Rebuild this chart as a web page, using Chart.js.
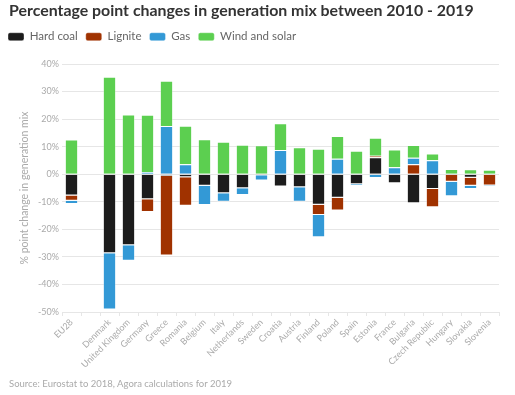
<!DOCTYPE html>
<html>
<head>
<meta charset="utf-8">
<script src="https://cdn.jsdelivr.net/npm/chart.js@4.4.1/dist/chart.umd.min.js"></script>
<style>
  html, body { margin: 0; padding: 0; background: #fff; }
  #wrap { position: relative; width: 515px; height: 395px; overflow: hidden; }
  canvas { display: block; position: absolute; left: 0; top: 0; }
  #title { position: absolute; left: 9px; top: -0.5px; font-family: 'Lato', sans-serif; font-weight: bold;
           font-size: 15.9px; line-height: 20px; color: #333; white-space: nowrap; }
  #foot { position: absolute; left: 9px; top: 378px; font-family: 'Lato', sans-serif;
          font-size: 9.5px; line-height: 12px; color: #aaa; white-space: nowrap; }
</style>
</head>
<body>
<div id="wrap">
  <canvas id="c" width="515" height="395"></canvas>
  <div id="title">Percentage point changes in generation mix between 2010 - 2019</div>
  <div id="foot">Source: Eurostat to 2018, Agora calculations for 2019</div>
</div>
<script>
const categories = ["EU28", "", "Denmark", "United Kingdom", "Germany", "Greece", "Romania", "Belgium", "Italy", "Netherlands", "Sweden", "Croatia", "Austria", "Finland", "Poland", "Spain", "Estonia", "France", "Bulgaria", "Czech Republic", "Hungary", "Slovakia", "Slovenia"];
const hardCoal  = [-7.7, null, -28.7, -25.8, -9.1, -0.6, -1.1, -4.2, -6.9, -5.1, 0, -4.5, -4.7, -11.1, -8.5, -3.6, 6.2, -3.3, -10.5, -5.4, -0.3, -1.3, 0];
const lignite   = [-1.9, null, 0, 0, -4.6, -28.9, -10.3, 0, 0, 0, -0.4, 0, 0, -3.7, -4.7, 0, 0.5, 0, 3.6, -6.6, -2.4, -2.9, -4.1];
const gas       = [-1.2, null, -20.4, -5.6, 0.85, 17.5, 3.6, -7.0, -3.1, -2.4, -1.9, 8.8, -5.3, -8.1, 5.6, -0.6, -1.4, 2.5, 2.4, 5.1, -5.3, -1.2, -0.3];
const windSolar = [12.6, null, 35.4, 21.7, 20.7, 16.4, 14.0, 12.7, 11.8, 10.7, 10.5, 9.7, 9.8, 9.2, 8.3, 8.5, 6.5, 6.5, 4.6, 2.4, 1.9, 1.8, 1.6];
const yTicks = { min: -50, max: 40, step: 10 };

const FONT = "'Lato', 'Open Sans', sans-serif";
const mk = (label, data, color) => ({
  label, data, backgroundColor: color,
  borderColor: 'rgba(255,255,255,0.35)', borderWidth: 1,
  barPercentage: 0.7, categoryPercentage: 1.0
});

new Chart(document.getElementById('c'), {
  type: 'bar',
  data: {
    labels: categories,
    datasets: [
      mk('Hard coal', hardCoal, '#1c1c1c'),
      mk('Lignite', lignite, '#a03200'),
      mk('Gas', gas, '#3399d6'),
      mk('Wind and solar', windSolar, '#5ccf50')
    ]
  },
  options: {
    responsive: false,
    animation: false,
    layout: { padding: { left: 0, right: 16, top: 23, bottom: 21 } },
    plugins: {
      title: { display: false },
      legend: {
        display: true, align: 'start',
        labels: {
          boxWidth: 16, boxHeight: 8, useBorderRadius: true, borderRadius: 2,
          color: '#666', font: { family: FONT, size: 11.5 }, padding: 8
        }
      },
      subtitle: {
        display: true, position: 'top', weight: 500, text: '',
        font: { size: 1 }, padding: { top: 0, bottom: 10.3 }
      },
      tooltip: { enabled: false }
    },
    scales: {
      x: {
        stacked: true,
        grid: { display: true, drawOnChartArea: false, tickLength: 4, color: '#e6e6e6' },
        border: { display: false },
        ticks: { minRotation: 45, maxRotation: 45, color: '#aaa', font: { family: FONT, size: 9 }, autoSkip: false, padding: 1 },
        afterFit: (a) => { a.height = 62; }
      },
      y: {
        stacked: true,
        min: yTicks.min, max: yTicks.max,
        grid: { color: '#e6e6e6', drawTicks: false },
        border: { display: false },
        ticks: { stepSize: yTicks.step, color: '#aaa', font: { family: FONT, size: 9 }, padding: 3,
                 callback: (v) => v + '%' },
        title: { display: true, text: '% point change in generation mix', color: '#aaa',
                 font: { family: FONT, size: 10.5 }, padding: { top: 18.7, bottom: 0 } },
        afterFit: (a) => { a.width = 62; }
      }
    }
  }
});
</script>
</body>
</html>
